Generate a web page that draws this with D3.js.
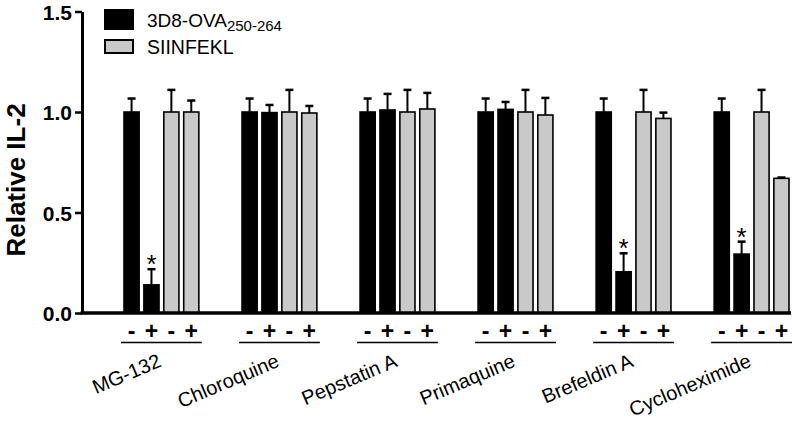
<!DOCTYPE html>
<html><head><meta charset="utf-8">
<script src="https://cdn.jsdelivr.net/npm/d3@7"></script>
<style>body{margin:0;background:#fff}svg{display:block;font-family:Arial,"Liberation Sans",sans-serif}</style>
</head><body><svg id="c" width="793" height="422"></svg>
<script>
const groups = ["MG-132","Chloroquine","Pepstatin A","Primaquine","Brefeldin A","Cycloheximide"];
const conditions = ["ova-","ova+","sii-","sii+"];
const condSigns = ["-","+","-","+"];
const condSeries = ["3D8-OVA","3D8-OVA","SIINFEKL","SIINFEKL"];
// values per group, order: OVA -, OVA +, SIINFEKL -, SIINFEKL +
const means = [
  [1.00, 0.14, 1.00, 1.00],
  [1.00, 0.997, 1.00, 0.995],
  [1.00, 1.01, 1.00, 1.015],
  [1.00, 1.013, 1.00, 0.985],
  [1.00, 0.205, 1.00, 0.968],
  [1.00, 0.293, 1.00, 0.67]
];
const errs = [
  [0.067, 0.078, 0.11, 0.057],
  [0.067, 0.038, 0.11, 0.035],
  [0.067, 0.08, 0.11, 0.08],
  [0.067, 0.037, 0.11, 0.085],
  [0.067, 0.092, 0.11, 0.029],
  [0.067, 0.062, 0.11, 0.004]
];
const stars = [
  [false,true,false,false],
  [false,false,false,false],
  [false,false,false,false],
  [false,false,false,false],
  [false,true,false,false],
  [false,true,false,false]
];
const yTicks = [0, 0.5, 1.0, 1.5];
const seriesNames = ["3D8-OVA","SIINFEKL"];
const colors = {"3D8-OVA":"#000000","SIINFEKL":"#c9c9c9"};

const svg = d3.select("#c");
const y = d3.scaleLinear().domain([0,1.5]).range([313,11.5]);
const x = d3.scaleBand().domain(groups).range([124,789]).paddingInner(0.366).paddingOuter(0);
const xi = d3.scaleBand().domain(conditions).range([0,x.bandwidth()]).paddingInner(0.24).paddingOuter(0);

// bars
const data = [];
groups.forEach((g,gi)=>conditions.forEach((c,ci)=>data.push({g,c,ci,v:means[gi][ci],e:errs[gi][ci],s:stars[gi][ci],series:condSeries[ci]})));

const bw = xi.bandwidth();
const gBars = svg.append("g");
data.forEach(d=>{
  const bx = x(d.g)+xi(d.c);
  const cx = bx + bw/2;
  const top = y(d.v+d.e);
  gBars.append("line").attr("x1",cx).attr("x2",cx).attr("y1",y(d.v)).attr("y2",top).attr("stroke","#000").attr("stroke-width",2);
  gBars.append("line").attr("x1",cx-4).attr("x2",cx+4).attr("y1",top).attr("y2",top).attr("stroke","#000").attr("stroke-width",2.5);
  gBars.append("rect").attr("x",bx).attr("y",y(d.v)).attr("width",bw).attr("height",y(0)-y(d.v))
    .attr("fill",colors[d.series]).attr("stroke","#000").attr("stroke-width",1.6);
  if(d.s){
    gBars.append("text").attr("x",cx).attr("y",top+4).attr("text-anchor","middle").attr("font-size",26).text("*");
  }
});

// y axis
const yAxis = d3.axisLeft(y).tickValues(yTicks).tickFormat(d3.format(".1f")).tickSize(7).tickSizeOuter(0);
const ga = svg.append("g").attr("transform","translate(82,0)").call(yAxis);
ga.select(".domain").attr("stroke-width",3);
ga.selectAll(".tick line").attr("stroke-width",2.5);
ga.selectAll(".tick text").attr("font-size",21).attr("font-weight","bold").attr("font-family","Arial,'Liberation Sans',sans-serif").attr("fill","#000").attr("x",-10).attr("dy","0.36em");

// x axis line
svg.append("line").attr("x1",80.5).attr("x2",791).attr("y1",y(0)).attr("y2",y(0)).attr("stroke","#000").attr("stroke-width",3.5);

// condition signs
groups.forEach(g=>{
  conditions.forEach((c,ci)=>{
    svg.append("text").attr("x",x(g)+xi(c)+bw/2).attr("y",339).attr("text-anchor","middle")
      .attr("font-size",23).attr("font-weight","bold").text(condSigns[ci]);
  });
  svg.append("line").attr("x1",x(g)-3).attr("x2",x(g)+x.bandwidth()+3).attr("y1",342.5).attr("y2",342.5).attr("stroke","#000").attr("stroke-width",1.5);
  const gx = x(g)+x.bandwidth()/2+1;
  svg.append("text").attr("transform",`translate(${gx},366) rotate(-23)`).attr("text-anchor","end")
    .attr("font-size",20).text(g);
});

// y title
svg.append("text").attr("transform","translate(25,180) rotate(-90)").attr("text-anchor","middle")
  .attr("font-size",26).attr("font-weight","bold").text("Relative IL-2");

// legend
const leg = svg.append("g");
seriesNames.forEach((s,i)=>{
  const ly = i===0 ? 10 : 40;
  const lh = i===0 ? 19 : 13;
  leg.append("rect").attr("x",105).attr("y",ly).attr("width",28).attr("height",lh).attr("fill",colors[s]).attr("stroke","#000").attr("stroke-width",2);
});
const t1 = leg.append("text").attr("x",147).attr("y",27).attr("font-size",19);
t1.append("tspan").text("3D8-OVA");
t1.append("tspan").attr("font-size",15).attr("dy",4).text("250-264");
leg.append("text").attr("x",147).attr("y",54).attr("font-size",19.5).text("SIINFEKL");
</script></body></html>
